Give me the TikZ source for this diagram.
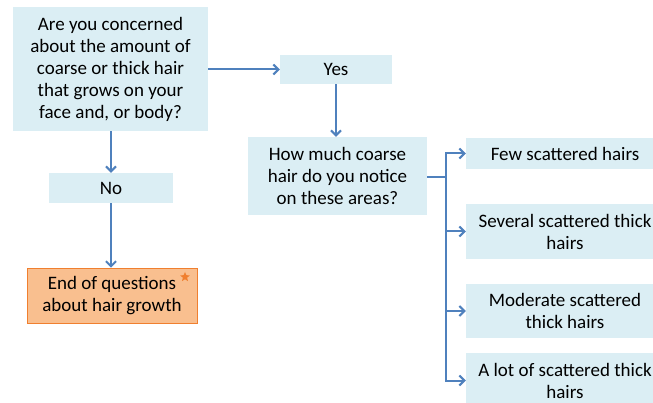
\documentclass[tikz,border=0pt]{standalone}
\usepackage{fontspec}
\setmainfont{Carlito}
\usetikzlibrary{arrows.meta,shapes.geometric}
\definecolor{boxblue}{HTML}{DBEEF4}
\definecolor{linkblue}{HTML}{4F81BD}
\definecolor{endfill}{HTML}{F9BF8F}
\definecolor{endline}{HTML}{F07F2F}

\begin{document}
\begin{tikzpicture}[x=1pt,y=-1pt,
    qbox/.style={fill=boxblue, align=center, inner sep=0pt, font=\fontsize{19}{22}\selectfont},
    flow/.style={draw=linkblue, line width=2pt},
    flowarrow/.style={flow, -{Straight Barb[length=5pt,width=10pt]}}]
            \clip (0,0) rectangle (653,403);
            \fill[white] (0,0) rectangle (653,403);

            \node[qbox, minimum width=195pt, minimum height=124pt] (concern) at (110.5,69) {Are you concerned\\about the amount of\\coarse or thick hair\\that grows on your\\face and, or body?};
            \node[qbox, minimum width=112pt, minimum height=29pt] (yes) at (336,69.5) {Yes};
            \node[qbox, minimum width=124pt, minimum height=30pt] (no) at (111,188) {No};
            \node[qbox, minimum width=179pt, minimum height=78pt] (howmuch) at (337.5,176) {How much coarse\\hair do you notice\\on these areas?};
            \node[qbox, fill=endfill, draw=endline, line width=0.8pt, minimum width=170pt, minimum height=55pt] (endq) at (112,295.5) {End of questions\\about hair growth};
            \node[star, star points=5, star point ratio=2.2, fill=endline, inner sep=0pt, minimum size=10pt] (mark) at (185,277) {};

            \node[qbox, minimum width=198pt, minimum height=31pt] (few) at (565,153.5) {Few scattered hairs};
            \node[qbox, minimum width=198pt, minimum height=55pt] (several) at (565,231.5) {Several scattered thick\\hairs};
            \node[qbox, minimum width=198pt, minimum height=54pt] (moderate) at (565,311) {Moderate scattered\\thick hairs};
            \node[qbox, minimum width=198pt, minimum height=55pt] (alot) at (565,380.5) {A lot of scattered thick\\hairs};

            \draw[flowarrow] (concern.east |- yes.west) -- (yes.west);
            \draw[flowarrow] (yes.south) -- (yes.south |- howmuch.north);
            \draw[flowarrow] (concern.south -| no.north) -- (no.north);
            \draw[flowarrow] (no.south) -- (no.south |- endq.north);

            \coordinate (fork) at (446,177);
            \draw[flow] (howmuch.east |- fork) -- (fork);
            \foreach \opt in {few,several,moderate,alot}
                \draw[flowarrow] (fork) |- (\opt.west);
    \end{tikzpicture}
\end{document}
